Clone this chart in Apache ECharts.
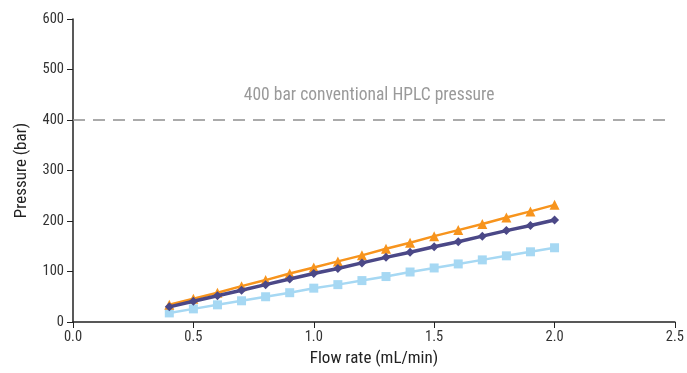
<!DOCTYPE html>
<html><head><meta charset="utf-8">
<script src="https://cdn.jsdelivr.net/npm/echarts@6/dist/echarts.min.js"></script>
<style>html,body{margin:0;padding:0;background:#fff}#c{width:687px;height:373px}</style>
</head><body><div id="c"></div>
<script>
const flowRates = [0.4,0.5,0.6,0.7,0.8,0.9,1.0,1.1,1.2,1.3,1.4,1.5,1.6,1.7,1.8,1.9,2.0];
const orangeSeries = [34,46,58,71,83,96,108,120,132,145,157,170,182,194,207,219,232];
const purpleSeries = [30,41,52,63,74,85,96,106,117,128,138,149,159,170,181,191,202];
const blueSeries = [18,26,34,42,50,58,67,74,82,90,99,107,115,123,131,139,147];
const limitValue = 400;
const limitLabel = '400 bar conventional HPLC pressure';
const xName = 'Flow rate (mL/min)';
const yName = 'Pressure (bar)';

const FONT = '"Roboto Condensed",Roboto,sans-serif';
const pairs = a => flowRates.map((x,i)=>[x,a[i]]);
const chart = echarts.init(document.getElementById('c'));
chart.setOption({
  animation:false,
  grid:{left:73,right:7,top:19,bottom:51},
  xAxis:{type:'value',min:0,max:2.5,interval:0.5,
    name:xName,nameLocation:'middle',nameGap:25,
    nameTextStyle:{fontFamily:FONT,fontSize:17,color:'#222'},
    axisLine:{lineStyle:{color:'#222',width:1.5}},
    axisTick:{show:true,length:6,lineStyle:{color:'#222'}},
    axisLabel:{fontFamily:FONT,fontSize:14.5,color:'#333',margin:8,formatter:v=>v.toFixed(1)},
    splitLine:{show:false}},
  yAxis:{type:'value',min:0,max:600,interval:100,
    name:yName,nameLocation:'middle',nameGap:43,
    nameTextStyle:{fontFamily:FONT,fontSize:17,color:'#222'},
    axisLine:{show:true,lineStyle:{color:'#222',width:1.5}},
    axisTick:{show:true,length:6,lineStyle:{color:'#222'}},
    axisLabel:{fontFamily:FONT,fontSize:14.5,color:'#333',margin:9},
    splitLine:{show:false}},
  series:[
    {type:'line',data:pairs(blueSeries),symbol:'rect',symbolSize:9,
     itemStyle:{color:'#A6D8F3'},lineStyle:{color:'#A6D8F3',width:2.5},z:2},
    {type:'line',data:pairs(orangeSeries),symbol:'triangle',symbolSize:10,
     itemStyle:{color:'#F7941D'},lineStyle:{color:'#F7941D',width:2.5},z:3},
    {type:'line',data:pairs(purpleSeries),symbol:'diamond',symbolSize:9,
     itemStyle:{color:'#4B4887'},lineStyle:{color:'#4B4887',width:3.5},z:4,
     markLine:{silent:true,symbol:'none',
       lineStyle:{type:[12,8],color:'#8f8f8f',width:1.5},
       label:{show:true,position:'middle',formatter:limitLabel,
         fontFamily:FONT,fontSize:17.5,color:'#9a9a9a',distance:15},
       data:[[{coord:[0,limitValue]},{coord:[2.46,limitValue]}]]}}
  ]
});
</script></body></html>
